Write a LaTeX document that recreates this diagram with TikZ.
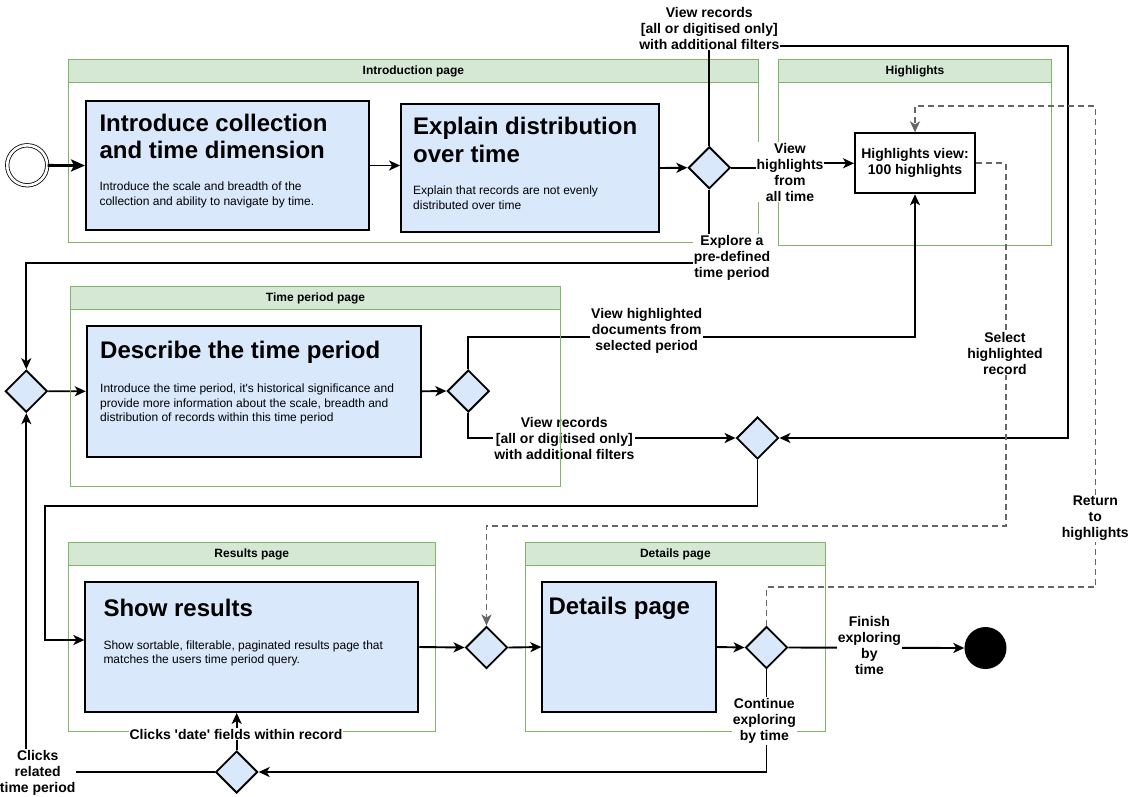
\documentclass[tikz,border=0pt]{standalone}
\usepackage{fontspec}
\setmainfont{Liberation Sans}[Ligatures=TeXOff]
\usepackage{xcolor}
\usetikzlibrary{arrows.meta, shapes.geometric}

\definecolor{taskblue}{HTML}{DAE8FC}
\definecolor{pagegreen}{HTML}{D5E8D4}
\definecolor{pageline}{HTML}{82B366}
\definecolor{dashgray}{HTML}{666666}

\begin{document}
\begin{tikzpicture}[x=1pt, y=-1pt,
  flow/.style={line width=1.9pt, -{Stealth[length=11pt,width=10pt,inset=3pt]}},
  dflow/.style={line width=1.9pt, dashgray, dash pattern=on 6pt off 4pt, -{Stealth[length=11pt,width=10pt,inset=3pt]}},
  task/.style={rectangle, draw, line width=1.9pt, fill=taskblue, inner sep=0pt},
  gate/.style={diamond, aspect=1, draw, line width=1.9pt, fill=taskblue, minimum width=42, minimum height=42, inner sep=0pt},
  page/.style={draw=pageline, line width=0.9pt},
  pagehead/.style={draw=pageline, fill=pagegreen, line width=0.9pt},
  headtxt/.style={font=\fontsize{12}{14}\selectfont\bfseries},
  title/.style={anchor=west, align=left, inner sep=0pt, font=\fontsize{24}{27.3}\selectfont\bfseries},
  body/.style={anchor=west, align=left, inner sep=0pt, font=\fontsize{12}{14.6}\selectfont},
  lbl/.style={fill=white, inner sep=1pt, align=center, font=\fontsize{14}{16}\selectfont\bfseries}]
\useasboundingbox (0,0) rectangle (1131,796);
%\draw[step=50,gray,very thin] (0,0) grid (1131,796); %background grid
%---------------------------------------------------
\draw[page] (68.3,59.3) rectangle (758.5,242.7);
\draw[pagehead] (68.3,59.3) rectangle (758.5,82.7);
\node[headtxt] at (413.4,71) {Introduction page};
\draw[page] (778.3,59.3) rectangle (1051.7,245.7);
\draw[pagehead] (778.3,59.3) rectangle (1051.7,82.7);
\node[headtxt] at (915,71) {Highlights};
\draw[page] (68.3,542.7) rectangle (435.3,731);
\draw[pagehead] (68.3,542.7) rectangle (435.3,565.3);
\node[headtxt] at (251.8,554) {Results page};
\draw[page] (525.7,542.7) rectangle (825.2,731);
\draw[pagehead] (525.7,542.7) rectangle (825.2,565.3);
\node[headtxt] at (675.4,554) {Details page};
%---------------------------------------------------
\node[circle, draw, double, double distance=2.6pt, line width=0.8pt, minimum size=40, inner sep=0pt] (start) at (27.2,165.3) {};
\node[circle, fill=black, minimum size=42, inner sep=0pt] (finish) at (985.5,648) {};
%---------------------------------------------------
\node[task, minimum width=283, minimum height=129] (intro) at (227.5,165.5) {};
\node[task, minimum width=258, minimum height=128] (spread) at (530,168) {};
\node[task, fill=white, minimum width=120, minimum height=60, font=\fontsize{14}{16}\selectfont\bfseries, align=center] (hlview) at (915,163.3) {Highlights view:\\100 highlights};
\node[task, minimum width=334, minimum height=130.7] (period) at (253.7,391.3) {};
\node[task, minimum width=333, minimum height=130] (results) at (251.8,647) {};
\node[task, minimum width=173.4, minimum height=130] (details) at (629,647) {};
%---------------------------------------------------
\node[title] at (99.3,136.4) {Introduce collection\\and time dimension};
\node[body] at (99.3,194.7) {Introduce the scale and breadth of the\\collection and ability to navigate by time.};
\node[title] at (413,140) {Explain distribution\\over time};
\node[body] at (413,197.7) {Explain that records are not evenly\\distributed over time};
\node[title] at (100,352.7) {Describe the time period};
\node[body] at (100,404) {Introduce the time period, it's historical significance and\\provide more information about the scale, breadth and\\distribution of records within this time period};
\node[title] at (103.3,608.3) {Show results};
\node[body] at (103.3,653.3) {Show sortable, filterable, paginated results page that\\matches the users time period query.};
\node[title] at (548.3,608.3) {Details page};
%---------------------------------------------------
\node[gate] (gIntro) at (709.3,167.7) {};
\node[gate] (gL) at (26.3,391.2) {};
\node[gate] (gPeriod) at (468.3,391) {};
\node[gate] (gMerge) at (757.5,438) {};
\node[gate] (gRes) at (486.5,647.5) {};
\node[gate] (gDet) at (766.5,647.5) {};
\node[gate] (gBack) at (236.7,772) {};
%---------------------------------------------------
\coordinate (cTop) at (1068.3,46);
\coordinate (cExp) at (26.3,263.3);
\coordinate (cAll) at (790,167.7);
\coordinate (cDoc) at (915,336.7);
\coordinate (cRes) at (45.3,506);
\coordinate (cSel) at (1005.7,526);
\coordinate (cRetLow) at (1095.5,586.7);
\coordinate (cRetTop) at (1095.5,106);
%---------------------------------------------------
\draw[flow, line width=2.8pt, -{Stealth[length=14pt,width=12pt,inset=3pt]}] (start) -- (intro.west);
\draw[flow] (intro.east) -- (intro.east -| spread.west);
\draw[flow] (spread.east) -- (gIntro.west);
\draw[flow] (gIntro.east) -- (cAll) |- (hlview.west);
\draw[flow] (gIntro.north) |- (cTop) |- (gMerge.east);
\draw[flow] (gIntro.south) |- (cExp) -- (gL.north);
\draw[flow] (gL.east) -- (period.west);
\draw[flow] (period.east) -- (gPeriod.west);
\draw[flow] (gPeriod.north) |- (cDoc) -- (hlview.south);
\draw[flow] (gPeriod.south) |- (gMerge.west);
\draw[flow] (gMerge.south) |- (cRes) |- ([yshift=7pt]results.west);
\draw[flow] (results.east) -- (gRes.west);
\draw[flow] (gRes.east) -- (details.west);
\draw[flow] (details.east) -- (gDet.west);
\draw[flow] (gDet.east) -- (finish.west);
\draw[flow] (gDet.south) |- (gBack.east);
\draw[flow] (gBack.north) -- (gBack.north |- results.south);
\draw[flow] (gBack.west) -| (gL.south);
%---------------------------------------------------
\draw[dflow] (hlview.east) -| (cSel) -| (gRes.north);
\draw[dflow] (gDet.north) |- (cRetLow) -- (cRetTop) -| (hlview.north);
%---------------------------------------------------
\node[lbl] at (709.3,28.2) {View records\\{[}all or digitised only{]}\\with additional filters};
\node[lbl] at (732,258) {Explore a\\pre-defined\\time period};
\node[lbl] at (790,172.2) {View\\highlights\\from\\all time};
\node[lbl] at (646.7,331.3) {View highlighted\\documents from\\selected period};
\node[lbl] at (564.3,438) {View records\\{[}all or digitised only{]}\\with additional filters};
\node[lbl] at (1005,353.3) {Select\\highlighted\\record};
\node[lbl] at (1095.3,518.2) {Return\\to\\highlights};
\node[lbl] at (869.4,645) {Finish\\exploring\\by\\time};
\node[lbl] at (764.3,721) {Continue\\exploring\\by time};
\node[lbl] at (236,734.3) {Clicks 'date' fields within record};
\node[lbl] at (37.7,773) {Clicks\\related\\time period};
%---------------------------------------------------
% time period page last: its border runs over the label
\draw[page] (70.3,286.7) rectangle (560.7,486.3);
\draw[pagehead] (70.3,286.7) rectangle (560.7,309.7);
\node[headtxt] at (315.5,298.2) {Time period page};

\end{tikzpicture}
\end{document}
